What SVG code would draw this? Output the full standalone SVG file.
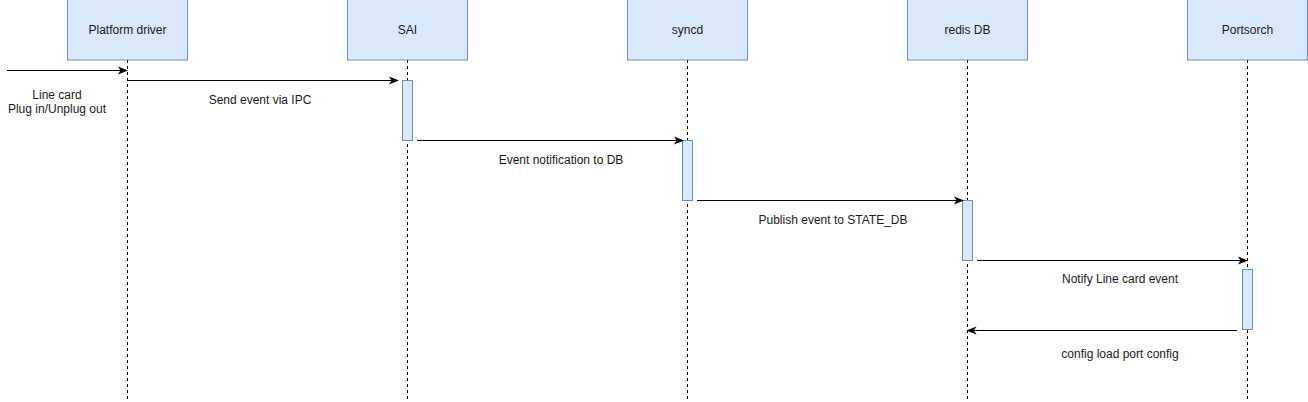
<svg xmlns="http://www.w3.org/2000/svg" width="1308" height="402" viewBox="0 0 1308 402">
<style>
.box{fill:#dae8fc;stroke:#6c8ebf;stroke-width:1}
.life{stroke:#000;stroke-width:1;stroke-dasharray:3 3;fill:none}
.act{fill:#dae8fc;stroke:#6c8ebf;stroke-width:1}
.msg{stroke:#000;stroke-width:1;fill:none;marker-end:url(#arr)}
text{font-family:"Liberation Sans",Arial,sans-serif;font-size:12px;fill:#1a1a1a;text-anchor:middle}
</style>
<defs>
<marker id="arr" viewBox="0 0 10 10" refX="9" refY="5" markerWidth="10" markerHeight="10" markerUnits="userSpaceOnUse" orient="auto">
<path d="M0,1 L10,5 L0,9 L2.5,5 Z" fill="#000"/>
</marker>
</defs>
<rect width="1308" height="402" fill="#fff"/>
<g id="platform-driver">
<rect class="box" x="67.5" y="-1" width="120" height="61"/>
<text x="127.5" y="34">Platform driver</text>
<line class="life" x1="127.5" y1="60" x2="127.5" y2="402"/>
</g>
<g id="sai">
<rect class="box" x="347.5" y="-1" width="120" height="61"/>
<text x="407.5" y="34">SAI</text>
<line class="life" x1="407.5" y1="60" x2="407.5" y2="402"/>
<rect class="act" x="402.5" y="80.5" width="10" height="60"/>
</g>
<g id="syncd">
<rect class="box" x="627.5" y="-1" width="120" height="61"/>
<text x="687.5" y="34">syncd</text>
<line class="life" x1="687.5" y1="60" x2="687.5" y2="402"/>
<rect class="act" x="682.5" y="140.5" width="10" height="60"/>
</g>
<g id="redis-db">
<rect class="box" x="907.5" y="-1" width="120" height="61"/>
<text x="967.5" y="34">redis DB</text>
<line class="life" x1="967.5" y1="60" x2="967.5" y2="402"/>
<rect class="act" x="962.5" y="200.5" width="10" height="60"/>
</g>
<g id="portsorch">
<rect class="box" x="1187.5" y="-1" width="120" height="61"/>
<text x="1247.5" y="34">Portsorch</text>
<line class="life" x1="1247.5" y1="60" x2="1247.5" y2="402"/>
<rect class="act" x="1242.5" y="269.5" width="10" height="60"/>
</g>
<g id="connectors">
<line class="msg" x1="7" y1="70.5" x2="127" y2="70.5"/>
<text x="57" y="99">Line card</text>
<text x="57" y="113">Plug in/Unplug out</text>
<line class="msg" x1="127.5" y1="80.5" x2="398" y2="80.5"/>
<text x="260" y="104">Send event via IPC</text>
<line class="msg" x1="417" y1="140.5" x2="683" y2="140.5"/>
<text x="561" y="164">Event notification to DB</text>
<line class="msg" x1="697" y1="200.5" x2="963" y2="200.5"/>
<text x="833" y="224">Publish event to STATE_DB</text>
<line class="msg" x1="977" y1="260.5" x2="1247" y2="260.5"/>
<text x="1120" y="283">Notify Line card event</text>
<line class="msg" x1="1237" y1="330.5" x2="967.5" y2="330.5"/>
<text x="1120" y="358">config load port config</text>
</g>
</svg>
